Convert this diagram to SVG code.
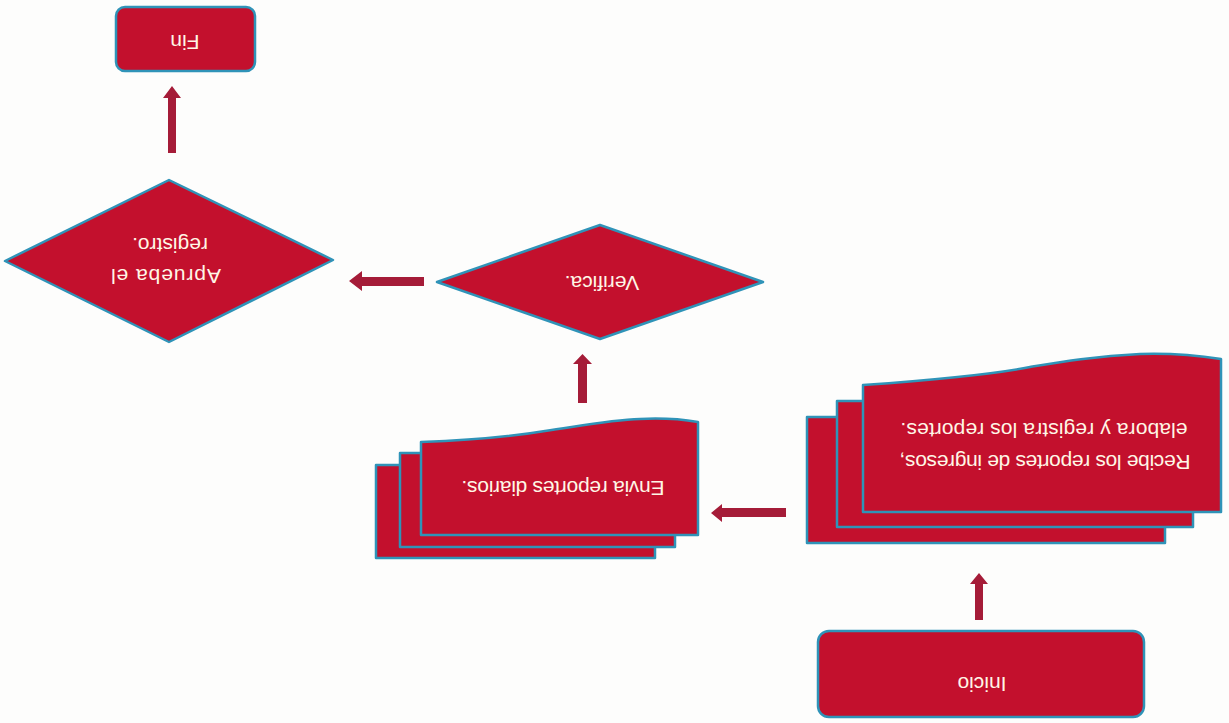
<svg xmlns="http://www.w3.org/2000/svg" width="1229" height="723" viewBox="0 0 1229 723">
  <style>
    .box { fill: #c3102d; stroke: #2f93b8; stroke-width: 2.5; stroke-linejoin: round; }
    .lbl { font-family: "Liberation Sans", Arial, sans-serif; font-size: 21px; fill: #fff6e6; text-anchor: middle; dominant-baseline: central; }
    .arrow { fill: #a51c38; }
  </style>
  <rect width="1229" height="723" fill="#fdfdfc"/>

  <!-- Whole chart is printed turned by 180 degrees: labels are rotated about their centres -->
  <g id="inicio">
    <rect class="box" x="818" y="631" width="326" height="86" rx="11"/>
    <text class="lbl" x="982" y="684" transform="rotate(180 982 684)">Inicio</text>
  </g>

  <g id="recibe">
    <rect class="box" x="807" y="417" width="358" height="126"/>
    <rect class="box" x="837" y="401" width="356" height="126"/>
    <path class="box" d="M863 512 L1221 512 L1221 359 C1195 355 1170 353 1140 354 C1095 356 1060 362 1030 367 C1000 373 960 378 863 385 Z"/>
    <text class="lbl" x="1045" y="462" transform="rotate(180 1045 462)" textLength="291">Recibe los reportes de ingresos,</text>
    <text class="lbl" x="1044" y="430" transform="rotate(180 1044 430)" textLength="287">elabora y registra los reportes.</text>
  </g>

  <g id="envia">
    <rect class="box" x="376" y="465" width="279" height="93"/>
    <rect class="box" x="400" y="453" width="275" height="94"/>
    <path class="box" d="M421 535 L698 535 L698 422 C680 419 660 418 640 419 C610 420 580 426 545 431 C515 436 480 440 421 442 Z"/>
    <text class="lbl" x="563" y="488" transform="rotate(180 563 488)" textLength="203">Envia reportes diarios.</text>
  </g>

  <g id="verifica">
    <polygon class="box" points="437,282 600,225 763,282 600,339"/>
    <text class="lbl" x="602" y="283" transform="rotate(180 602 283)">Verifica.</text>
  </g>

  <g id="aprueba">
    <polygon class="box" points="5,261 169,180 333,260 169,342"/>
    <text class="lbl" x="166" y="276" transform="rotate(180 166 276)" textLength="110">Aprueba el</text>
    <text class="lbl" x="170" y="245" transform="rotate(180 170 245)">registro.</text>
  </g>

  <g id="fin">
    <rect class="box" x="116" y="7" width="139" height="64" rx="9"/>
    <text class="lbl" x="185" y="42" transform="rotate(180 185 42)">Fin</text>
  </g>

  <g id="connectors">
    <path class="arrow" d="M975 620 L975 584 L970 584 L979 573 L988 584 L983 584 L983 620 Z"/>
    <path class="arrow" d="M786 508 L722 508 L722 504 L711 513 L722 522 L722 517 L786 517 Z"/>
    <path class="arrow" d="M578 403 L578 364 L573 364 L582.5 354 L592 364 L587 364 L587 403 Z"/>
    <path class="arrow" d="M424 277 L362 277 L362 271 L349 281 L362 291 L362 286 L424 286 Z"/>
    <path class="arrow" d="M168 153 L168 98 L163 98 L172 86 L181 98 L176 98 L176 153 Z"/>
  </g>
</svg>
